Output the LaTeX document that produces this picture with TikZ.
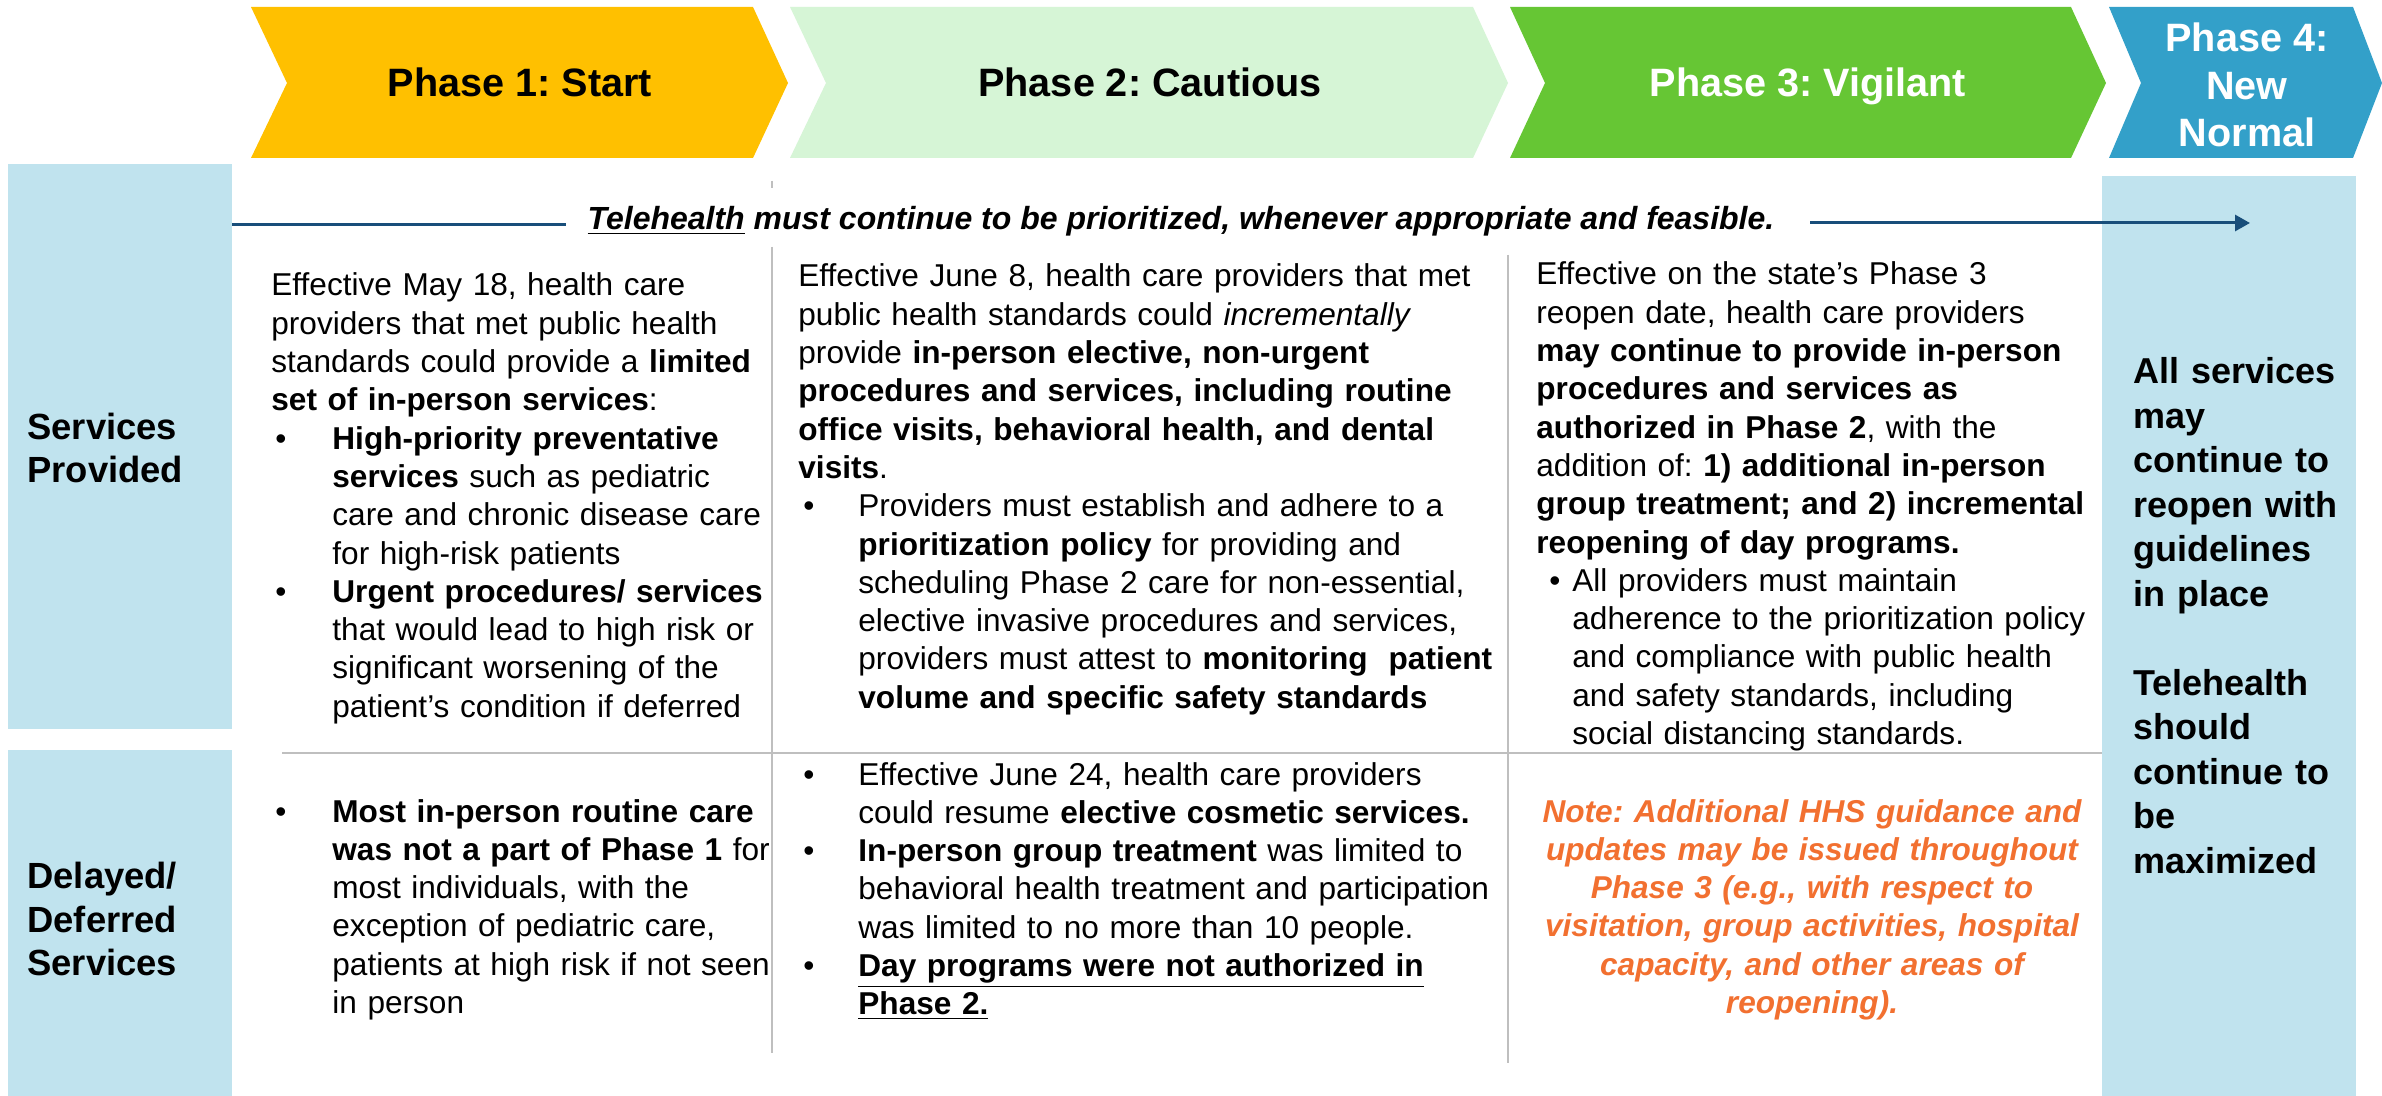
\documentclass[tikz,border=0pt]{standalone}
\usepackage{fontspec}
\setmainfont{Liberation Sans}
\usetikzlibrary{arrows.meta,fit}
\frenchspacing
\definecolor{gold}{RGB}{255,192,0}
\definecolor{palegreen}{RGB}{214,245,214}
\definecolor{midgreen}{RGB}{102,198,52}
\definecolor{phblue}{RGB}{51,160,201}
\definecolor{lblue}{RGB}{192,227,238}
\definecolor{noteorange}{RGB}{242,112,48}
\definecolor{rulegray}{RGB}{191,191,191}
\definecolor{teleblue}{RGB}{24,78,122}
\newcommand{\bulA}{\hspace*{2pt}\makebox[28.5pt][l]{\textbullet}}
\newcommand{\indA}{\hspace*{30.5pt}}
\newcommand{\bulB}{\hspace*{2.5pt}\makebox[27.5pt][l]{\textbullet}}
\newcommand{\indB}{\hspace*{30pt}}
\newcommand{\bulC}{\hspace*{6.5pt}\makebox[11.5pt][l]{\textbullet}}
\newcommand{\indC}{\hspace*{18pt}}
\newcommand{\phchev}[5]{\fill[#5] (#1,7) -- (#2,7) -- (#3,83) -- (#2,158) -- (#1,158) -- (#4,83) -- cycle;}
\begin{document}
\begin{tikzpicture}[x=0.5pt,y=-0.5pt,
  phlab/.style={font=\fontsize{19.8}{23.75}\selectfont\bfseries, inner sep=0, align=center},
  sidelab/.style={font=\fontsize{18.2}{21.75}\selectfont\bfseries, anchor=west, align=left, inner sep=0},
  body/.style={anchor=base west, inner sep=0, text width=430pt, align=left, font=\fontsize{15.8}{19.15}\selectfont},
  notetext/.style={anchor=base, inner sep=0, text width=300pt, align=center, text=noteorange, font=\fontsize{15.8}{19.15}\selectfont\bfseries\itshape},
  seprule/.style={draw=rulegray, line width=1.2pt},
  teleline/.style={draw=teleblue, line width=1.5pt},
  lbox/.style={fill=lblue, inner sep=0, draw=none}
]
\useasboundingbox (0,0) rectangle (2382,1096);
\fill[white] (0,0) rectangle (2382,1096);
% chevrons
\phchev{251}{753}{788}{287}{gold}
\phchev{790}{1473}{1508}{826}{palegreen}
\phchev{1510}{2071}{2106}{1545}{midgreen}
\phchev{2109}{2353}{2382}{2141}{phblue}
\node[phlab,anchor=base] (p1) at (520,97) {Phase 1: Start};
\node[phlab,anchor=base] (p2) at (1150,97) {Phase 2: Cautious};
\node[phlab,anchor=base,text=white] (p3) at (1808,97) {Phase 3: Vigilant};
\node[phlab,text=white] (p4) at (2247,85) {Phase 4:\\New\\Normal};
% side boxes
\node[lbox, fit={(8,164) (232,729)}] (spbox) {};
\node[lbox, fit={(8,750) (232,1096)}] (ddbox) {};
\node[lbox, fit={(2102,176) (2356,1096)}] (p4box) {};
\node[sidelab] (splab) at (27,448) {Services\\Provided};
\node[sidelab] (ddlab) at (27,919) {Delayed/\\Deferred\\Services};
% separators
\draw[seprule] (772,181) -- (772,188);
\draw[seprule] (772,247) -- (772,1053);
\draw[seprule] (1508,255) -- (1508,1063);
\draw[seprule] (282,753) -- (2102,753);
% telehealth line
\node[anchor=base, inner sep=0, font=\fontsize{16}{19}\selectfont\bfseries\itshape] (tele) at (1181,230) {\underline{Telehealth} must continue to be prioritized, whenever appropriate and feasible.};
\coordinate (tA) at (232,225);
\coordinate (tB) at (566,225);
\coordinate (tC) at (1810,223);
\coordinate (tD) at (2250,223);
\draw[teleline] (tA) -- (tB);
\draw[teleline,-{Triangle[length=7.5pt,width=8pt]}] (tC) -- (tD);
% column texts
\node[body] (c1s) at (271,296) {Effective May 18, health care\\
providers that met public health\\
standards could provide a \textbf{limited}\\
\textbf{set of in-person services}:\\
\bulA\textbf{High-priority preventative}\\
\indA\textbf{services} such as pediatric\\
\indA care and chronic disease care\\
\indA for high-risk patients\\
\bulA\textbf{Urgent procedures/ services}\\
\indA that would lead to high risk or\\
\indA significant worsening of the\\
\indA patient’s condition if deferred};
\node[body] (c2s) at (798,287) {Effective June 8, health care providers that met\\
public health standards could \textit{incrementally}\\
provide \textbf{in-person elective, non-urgent}\\
\textbf{procedures and services, including routine}\\
\textbf{office visits, behavioral health, and dental}\\
\textbf{visits}.\\
\bulB Providers must establish and adhere to a\\
\indB\textbf{prioritization policy} for providing and\\
\indB scheduling Phase 2 care for non-essential,\\
\indB elective invasive procedures and services,\\
\indB providers must attest to \textbf{monitoring\ \ patient}\\
\indB\textbf{volume and specific safety standards}};
\node[body] (c3s) at (1536,285) {Effective on the state’s Phase 3\\
reopen date, health care providers\\
\textbf{may continue to provide in-person}\\
\textbf{procedures and services as}\\
\textbf{authorized in Phase 2}, with the\\
addition of: \textbf{1) additional in-person}\\
\textbf{group treatment; and 2) incremental}\\
\textbf{reopening of day programs.}\\
\bulC All providers must maintain\\
\indC adherence to the prioritization policy\\
\indC and compliance with public health\\
\indC and safety standards, including\\
\indC social distancing standards.};
\node[body] (c1d) at (271,822) {\bulA\textbf{Most in-person routine care}\\
\indA\textbf{was not a part of Phase 1} for\\
\indA most individuals, with the\\
\indA exception of pediatric care,\\
\indA patients at high risk if not seen\\
\indA in person};
\node[body] (c2d) at (798,785) {\bulB Effective June 24, health care providers\\
\indB could resume \textbf{elective cosmetic services.}\\
\bulB\textbf{In-person group treatment} was limited to\\
\indB behavioral health treatment and participation\\
\indB was limited to no more than 10 people.\\
\bulB\textbf{\underline{Day programs were not authorized in}}\\
\indB\textbf{\underline{Phase 2.}}};
\node[notetext] (c3d) at (1812,822) {Note: Additional HHS guidance and\\
updates may be issued throughout\\
Phase 3 (e.g., with respect to\\
visitation, group activities, hospital\\
capacity, and other areas of\\
reopening).};
\node[anchor=base west, inner sep=0, text width=125pt, align=left, font=\fontsize{18}{22.25}\selectfont\bfseries] (p4txt) at (2133,384) {All services\\may\\continue to\\reopen with\\guidelines\\in place\\[22.25pt]Telehealth\\should\\continue to\\be\\maximized};
\end{tikzpicture}
\end{document}
